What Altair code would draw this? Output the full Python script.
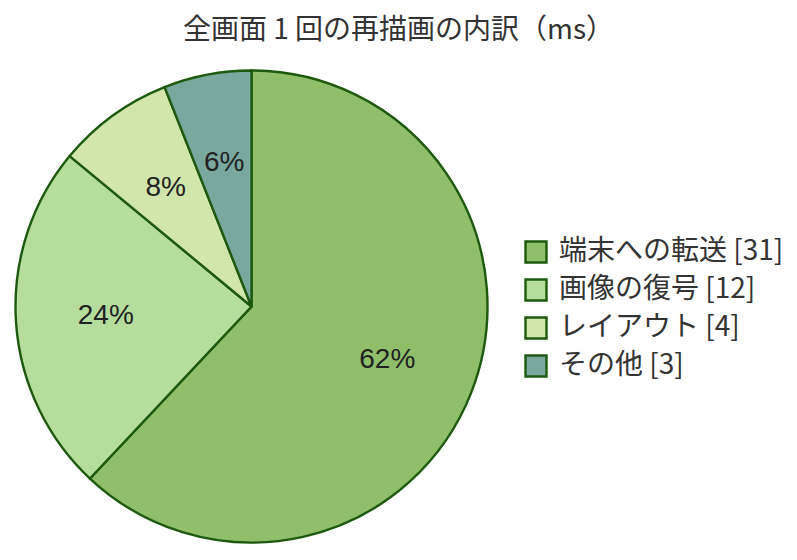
import altair as alt
import pandas as pd

categories = ["端末への転送", "画像の復号", "レイアウト", "その他"]
values = [31, 12, 4, 3]
pct_labels = ["62%", "24%", "8%", "6%"]
colors = ["#8fbf6b", "#b5dd9c", "#d2e5ab", "#79a99e"]
stroke_color = "#1d5a0f"

legend_labels = [f"{c} [{v}]" for c, v in zip(categories, values)]
df = pd.DataFrame({
    "label": legend_labels,
    "value": values,
    "order": list(range(len(values))),
    "pct": pct_labels,
})

PAD_TOP = 60
CX = 243.5
CY = 238.5
R = 236

base = alt.Chart(df).encode(
    theta=alt.Theta("value:Q", stack=True),
    order=alt.Order("order:Q"),
)

pie = base.mark_arc(stroke=stroke_color, strokeWidth=2.4, outerRadius=R).encode(
    x=alt.value(CX),
    y=alt.value(CY),
    color=alt.Color(
        "label:N",
        scale=alt.Scale(domain=legend_labels, range=colors),
        sort=legend_labels,
        legend=alt.Legend(
            title=None,
            orient="none",
            legendX=514,
            legendY=230 - PAD_TOP,
            symbolType="square",
            symbolSize=441,
            symbolStrokeWidth=2.4,
            symbolStrokeColor=stroke_color,
            symbolOpacity=1,
            labelFont="Noto Sans CJK JP",
            labelFontSize=28,
            labelColor="#333333",
            labelOffset=9,
            rowPadding=6,
            labelLimit=400,
        ),
    ),
)

text = base.mark_text(
    radius=146, font="Liberation Sans", fontSize=28, color="#222222"
).encode(
    x=alt.value(CX),
    y=alt.value(CY),
    text="pct:N",
)

chart = (
    alt.layer(pie, text)
    .properties(
        width=781,
        height=544 - PAD_TOP,
        title=alt.TitleParams(
            "全画面 1 回の再描画の内訳（ms）",
            font="Noto Sans CJK JP",
            fontSize=28,
            fontWeight="normal",
            color="#333333",
            anchor="start",
            frame="group",
            dx=175,
            offset=21,
        ),
        padding={"left": 0, "top": PAD_TOP, "right": 0, "bottom": 0},
        autosize=alt.AutoSizeParams(type="none"),
    )
    .configure_view(stroke=None)
)

chart.save("out.html", embed_options={"renderer": "svg", "actions": False})
